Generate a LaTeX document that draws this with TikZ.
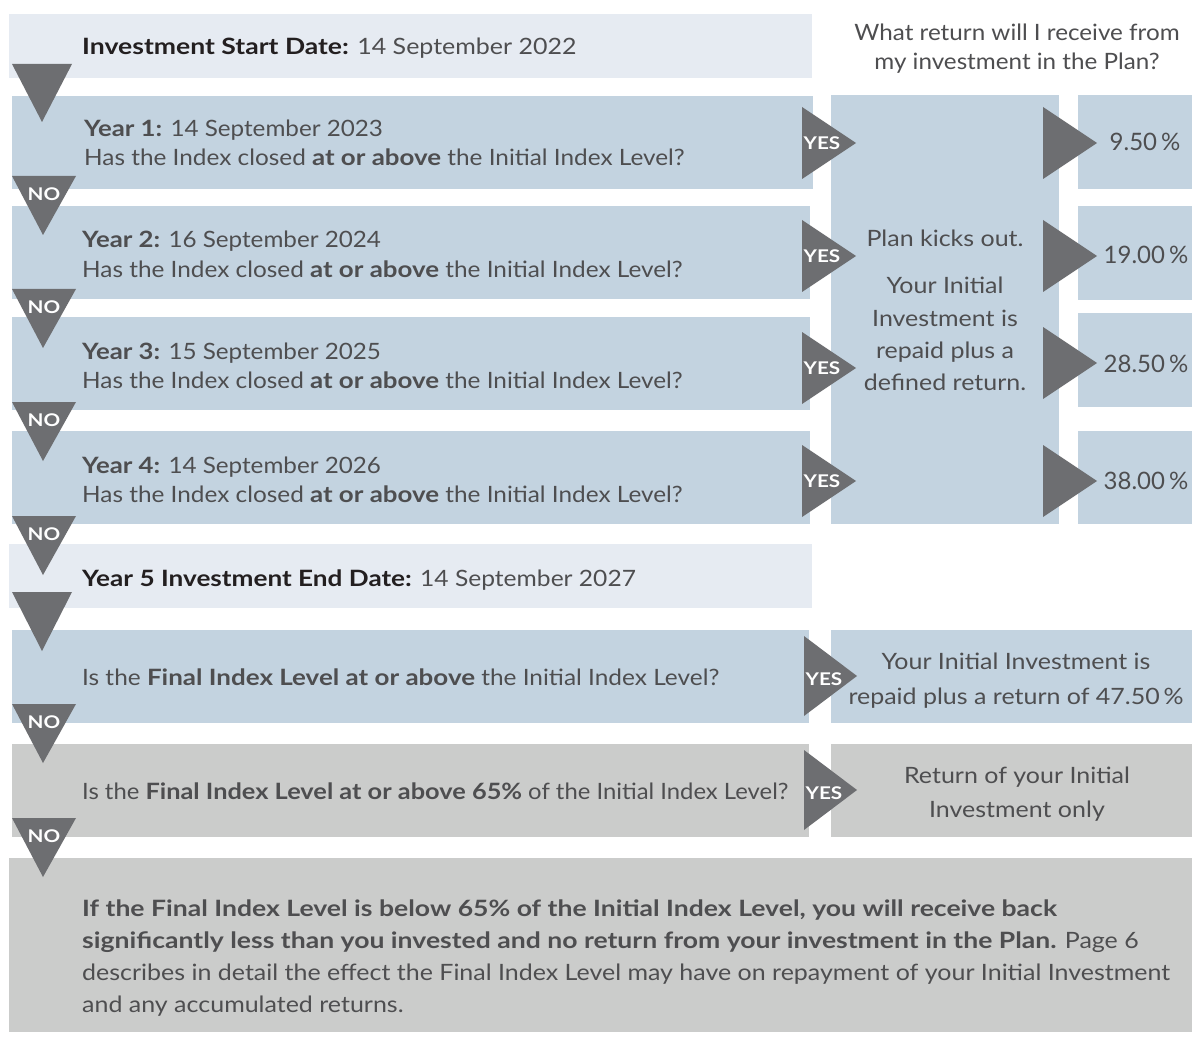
\documentclass[tikz,border=0pt]{standalone}
\usepackage{graphicx}
\usepackage{fontspec}
\setmainfont{Lato}[FakeStretch=1.11, BoldFeatures={FakeStretch=1.18}]
\newfontfamily\pctfont{Lato}
\newcommand{\sqz}[2]{\scalebox{#1}[1]{#2}}
\definecolor{startbg}{HTML}{E6EBF2}
\definecolor{bluebg}{HTML}{C3D3E0}
\definecolor{greybg}{HTML}{CBCCCB}
\definecolor{trigrey}{HTML}{6D6E71}
\definecolor{txt}{HTML}{4E4E50}
\definecolor{darktxt}{HTML}{231F20}
\tikzset{
  box/.style={inner sep=0pt, outer sep=0pt, anchor=north west},
  tri/.style={fill=trigrey},
  lbl/.style={inner sep=0pt, anchor=base west, text=txt, font=\fontsize{22.5}{28}\selectfont},
  clbl/.style={inner sep=0pt, anchor=base, text=txt, font=\fontsize{22.5}{28}\selectfont},
  pct/.style={inner sep=0pt, anchor=base, text=txt, font=\pctfont\fontsize{24}{28}\selectfont},
  yes/.style={inner sep=0pt, text=white, font=\bfseries\fontsize{17.5}{19}\selectfont},
}
\begin{document}
\begin{tikzpicture}[x=1pt,y=-1pt]
\useasboundingbox[fill=white] (0,0) rectangle (1192,1043);
% boxes
\node[box, fill=startbg, minimum width=803pt, minimum height=64pt] (start) at (9,14) {};
\node[box, fill=bluebg, minimum width=801pt, minimum height=93pt] (y1) at (12,96) {};
\node[box, fill=bluebg, minimum width=798pt, minimum height=93pt] (y2) at (12,206) {};
\node[box, fill=bluebg, minimum width=798pt, minimum height=93pt] (y3) at (12,317) {};
\node[box, fill=bluebg, minimum width=798pt, minimum height=93pt] (y4) at (12,431) {};
\node[box, fill=startbg, minimum width=803pt, minimum height=64pt] (end) at (9,544) {};
\node[box, fill=bluebg, minimum width=797pt, minimum height=93pt] (f1) at (12,630) {};
\node[box, fill=greybg, minimum width=797pt, minimum height=93pt] (f2) at (12,744) {};
\node[box, fill=greybg, minimum width=1183pt, minimum height=174pt] (last) at (9,858) {};
\node[box, fill=bluebg, minimum width=228pt, minimum height=429pt] (plan) at (831,95) {};
\node[box, fill=bluebg, minimum width=114pt, minimum height=94pt] (p1) at (1078,95) {};
\node[box, fill=bluebg, minimum width=114pt, minimum height=94pt] (p2) at (1078,206) {};
\node[box, fill=bluebg, minimum width=114pt, minimum height=94pt] (p3) at (1078,313) {};
\node[box, fill=bluebg, minimum width=114pt, minimum height=93pt] (p4) at (1078,431) {};
\node[box, fill=bluebg, minimum width=361pt, minimum height=93pt] (o1) at (831,630) {};
\node[box, fill=greybg, minimum width=361pt, minimum height=93pt] (o2) at (831,744) {};
% down triangles (plain)
\fill[tri] (12,64) -- (72,64) -- (42,122) -- cycle;
\fill[tri] (12,592) -- (72,592) -- (42,651) -- cycle;
% NO triangles
\foreach \t/\n in {176/no1,289/no2,402/no3,516/no4,704/no5,818/no6}{
  \fill[tri] (12,\t) -- (76,\t) -- (43,\t+59) -- cycle;
  \node[yes] (\n) at (44,\t+18) {NO};
}
% YES triangles
\foreach \c/\n in {143/ys1,256/ys2,368/ys3,481/ys4}{
  \fill[tri] (802,\c-36) -- (856,\c) -- (802,\c+36) -- cycle;
  \node[yes] (\n) at (822,\c) {YES};
}
\foreach \c/\n in {676/ys5,790/ys6}{
  \fill[tri] (804,\c-40) -- (857,\c) -- (804,\c+40) -- cycle;
  \node[yes] (\n) at (824,\c+3) {YES};
}
% right triangles
\foreach \c/\n in {143/r1,256/r2,363/r3,481/r4}{
  \fill[tri] (1043,\c-36) -- (1097,\c) -- (1043,\c+36) -- cycle;
  \coordinate (\n) at (1097,\c);
}
% texts
\node[lbl] (tstart) at (82,55) {\textcolor{darktxt}{\textbf{Investment Start Date:}} 14 September 2022};
\node[clbl] (q1) at (1017,41) {\sqz{0.97}{What return will I receive from}};
\node[clbl] (q2) at (1017,70) {\sqz{0.97}{my investment in the Plan?}};
\node[lbl] (t1a) at (84,137) {\sqz{0.97}{\textbf{Year 1:} 14 September 2023}};
\node[lbl] (t1b) at (84,166) {\sqz{0.975}{Has the Index closed \textbf{at or above} the Initial Index Level?}};
\node[lbl] (t2a) at (82,248) {\sqz{0.97}{\textbf{Year 2:} 16 September 2024}};
\node[lbl] (t2b) at (82,277) {\sqz{0.975}{Has the Index closed \textbf{at or above} the Initial Index Level?}};
\node[lbl] (t3a) at (82,359) {\sqz{0.97}{\textbf{Year 3:} 15 September 2025}};
\node[lbl] (t3b) at (82,388) {\sqz{0.975}{Has the Index closed \textbf{at or above} the Initial Index Level?}};
\node[lbl] (t4a) at (82,473) {\sqz{0.97}{\textbf{Year 4:} 14 September 2026}};
\node[lbl] (t4b) at (82,502) {\sqz{0.975}{Has the Index closed \textbf{at or above} the Initial Index Level?}};
\node[lbl] (tend) at (82,586) {\sqz{0.985}{\textcolor{darktxt}{\textbf{Year 5 Investment End Date:}} 14 September 2027}};
\node[lbl] (tf1) at (82,685) {\sqz{0.978}{Is the \textbf{Final Index Level at or above} the Initial Index Level?}};
\node[lbl] (tf2) at (82,799) {\sqz{0.955}{Is the \textbf{Final Index Level at or above 65\%} of the Initial Index Level?}};
\node[clbl] (pl1) at (945,247) {Plan kicks out.};
\node[clbl] (pl2) at (945,294) {Your Initial};
\node[clbl] (pl3) at (945,326) {Investment is};
\node[clbl] (pl4) at (945,358) {repaid plus a};
\node[clbl] (pl5) at (945,390) {defined return.};
\node[pct] (v1) at (1145,151) {9.50\,\%};
\node[pct] (v2) at (1146,264) {19.00\,\%};
\node[pct] (v3) at (1146,372) {28.50\,\%};
\node[pct] (v4) at (1146,489) {38.00\,\%};
\node[clbl] (oa1) at (1016,669) {Your Initial Investment is};
\node[clbl] (oa2) at (1016,704) {repaid plus a return of 47.50\,\%};
\node[clbl] (ob1) at (1017,783) {Return of your Initial};
\node[clbl] (ob2) at (1017,817) {Investment only};
\node[lbl] (b1) at (82,916) {\textbf{If the Final Index Level is below 65\% of the Initial Index Level, you will receive back}};
\node[lbl] (b2) at (82,948) {\textbf{significantly less than you invested and no return from your investment in the Plan.} Page 6};
\node[lbl] (b3) at (82,980) {describes in detail the effect the Final Index Level may have on repayment of your Initial Investment};
\node[lbl] (b4) at (82,1012) {and any accumulated returns.};
\end{tikzpicture}
\end{document}
